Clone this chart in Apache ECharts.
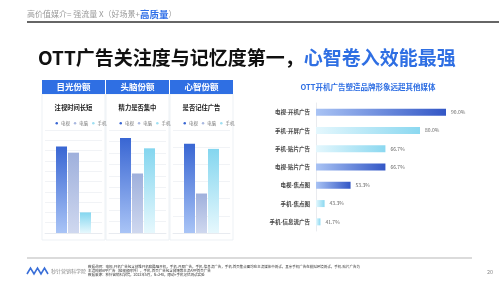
<!DOCTYPE html>
<html>
<head>
<meta charset="utf-8">
<script src="https://cdn.jsdelivr.net/npm/echarts@6/dist/echarts.min.js"></script>
<style>
html,body{margin:0;padding:0;background:#fff;}
#chart{width:499px;height:281px;}
</style>
</head>
<body>
<div id="chart"></div>
<script>
// ---- data ----
const panelTitles = ['目光份额', '头脑份额', '心智份额'];
const panelSubtitles = ['注视时间长短', '精力是否集中', '是否记住广告'];
const deviceNames = ['电视', '电脑', '手机'];
const panelTvValues = [84, 83, 52];
const panelPcValues = [78, 52, 23];
const panelPhoneValues = [20, 74, 49];
const panelAxisMax = [100, 90, 60];

const mediaCategories = ['电视-开机广告', '手机-开屏广告', '手机-贴片广告', '电视-贴片广告', '电视-焦点图', '手机-焦点图', '手机-信息流广告'];
const mediaValues = [90.0, 80.0, 66.7, 66.7, 53.3, 43.3, 41.7];

const FONT = '"Noto Sans CJK SC", "Noto Sans", sans-serif';
const chart = echarts.init(document.getElementById('chart'), null, {renderer: 'canvas'});

function vGrad(top, bottom) {
  return new echarts.graphic.LinearGradient(0, 0, 0, 1, [{offset: 0, color: top}, {offset: 1, color: bottom}]);
}
function hGrad(left, right) {
  return new echarts.graphic.LinearGradient(0, 0, 1, 0, [{offset: 0, color: left}, {offset: 1, color: right}]);
}
const deviceColors = [
  vGrad('#3966d3', '#a9c4f6'),
  vGrad('#9fb0dc', '#cfd8ef'),
  vGrad('#84d6ef', '#e6f8fd')
];
const legendColors = ['#3966d3', '#a9b8e0', '#9fdff2'];

const cardX = [42, 106, 170];
const cardW = 63;
const panelValues = [panelTvValues, panelPcValues, panelPhoneValues];

const grids = [], xAxes = [], yAxes = [], series = [], legends = [], graphics = [];

for (let i = 0; i < 3; i++) {
  grids.push({left: cardX[i] + 3, width: cardW - 6, top: 130, bottom: 48, containLabel: false});
  xAxes.push({type: 'category', gridIndex: i, data: [panelSubtitles[i]],
    axisLine: {show: true, lineStyle: {color: '#e6e9ef', width: 0.8}},
    axisTick: {show: false}, axisLabel: {show: false}});
  yAxes.push({type: 'value', gridIndex: i, min: 0, max: panelAxisMax[i], interval: 10,
    axisLine: {show: false}, axisTick: {show: false}, axisLabel: {show: false},
    splitLine: {show: true, lineStyle: {color: '#eef0f4', width: 0.8}}});
  for (let j = 0; j < 3; j++) {
    series.push({
      type: 'bar', name: deviceNames[j], xAxisIndex: i, yAxisIndex: i,
      data: [panelValues[j][i]],
      barWidth: 11, barGap: '9%',
      itemStyle: {color: deviceColors[j]},
      emphasis: {disabled: true}
    });
  }
  legends.push({
    left: cardX[i] + cardW / 2 - 23, top: 116,
    data: deviceNames.map((n, k) => ({name: n, itemStyle: {color: legendColors[k]}})),
    icon: 'circle', itemWidth: 2.5, itemHeight: 2.5, itemGap: 4,
    textStyle: {fontSize: 4.4, color: '#777', fontFamily: FONT, padding: [0, 0, 0, -2]},
    selectedMode: false
  });
  // card + header
  graphics.push({type: 'rect', z: 0, shape: {x: cardX[i], y: 94, width: cardW, height: 146},
    style: {fill: '#fff', stroke: '#e9edf3', lineWidth: 0.8}});
  graphics.push({type: 'rect', z: 1, shape: {x: cardX[i], y: 80, width: cardW, height: 14},
    style: {fill: '#2f6fe3'}});
  graphics.push({type: 'text', z: 2, x: cardX[i] + cardW / 2, y: 87,
    style: {text: panelTitles[i], fill: '#fff', font: 'bold 8.5px ' + FONT, align: 'center', verticalAlign: 'middle'}});
  graphics.push({type: 'text', z: 2, x: cardX[i] + cardW / 2, y: 108,
    style: {text: panelSubtitles[i], fill: '#222', font: 'bold 6.3px ' + FONT, align: 'center', verticalAlign: 'middle'}});
}

// right horizontal chart
grids.push({left: 316, right: 27, top: 103, bottom: 50, containLabel: false});
xAxes.push({type: 'value', gridIndex: 3, min: 40, max: 100, show: false, splitLine: {show: false}});
yAxes.push({type: 'category', gridIndex: 3, data: mediaCategories, inverse: true,
  axisLine: {show: true, lineStyle: {color: '#e3e6eb', width: 0.8}},
  axisTick: {show: false},
  axisLabel: {fontSize: 5.5, fontWeight: 'bold', color: '#444', fontFamily: FONT, margin: 6}});
series.push({
  type: 'bar', name: 'media', xAxisIndex: 3, yAxisIndex: 3,
  data: mediaValues.map((v, k) => ({
    value: v,
    itemStyle: {color: mediaCategories[k].indexOf('电视') === 0 ? hGrad('#a9c3f4', '#3357c6') : hGrad('#e4f7fd', '#8bd8f0')}
  })),
  barWidth: 7,
  label: {show: true, position: 'right', distance: 5, fontSize: 5, color: '#666', fontFamily: FONT,
    formatter: p => Number(p.value).toFixed(1) + '%'},
  emphasis: {disabled: true}
});

// texts
graphics.push({type: 'text', x: 27, y: 14, style: {
  text: '{a|高价值媒介= 强流量 X（好场景+}{b|高质量}{a|）}', verticalAlign: 'middle',
  rich: {a: {fontSize: 8, fill: '#9a9a9a', fontFamily: FONT}, b: {fontSize: 9.5, fontWeight: 'bold', fill: '#2f6fe8', fontFamily: FONT}}
}});
graphics.push({type: 'line', shape: {x1: 27, y1: 22, x2: 499, y2: 22}, style: {stroke: '#333', lineWidth: 1.4}});
graphics.push({type: 'text', x: 38, y: 58, style: {
  text: '{a|OTT广告关注度与记忆度第一，}{b|心智卷入效能最强}', verticalAlign: 'middle',
  rich: {a: {fontSize: 19, fontWeight: 'bold', fill: '#111', fontFamily: FONT}, b: {fontSize: 19, fontWeight: 'bold', fill: '#2f6fe3', fontFamily: FONT}}
}});
graphics.push({type: 'text', x: 368, y: 87, style: {
  text: 'OTT开机广告塑造品牌形象远超其他媒体', fill: '#2f6fe3', font: 'bold 7.5px ' + FONT, align: 'center', verticalAlign: 'middle'}});

// footer
graphics.push({type: 'line', shape: {x1: 27, y1: 258, x2: 472, y2: 258}, style: {stroke: '#999', lineWidth: 0.7}});
graphics.push({type: 'polyline', shape: {points: [[27, 274], [30.5, 268], [34, 274], [37.5, 268], [41, 274], [44.5, 268], [48, 274]]},
  style: {stroke: '#3a6fd8', lineWidth: 1.6, fill: null}});
graphics.push({type: 'text', x: 51, y: 271, style: {text: '秒针营销科学院', fill: '#888', font: '5px ' + FONT, verticalAlign: 'middle'}});
graphics.push({type: 'text', x: 88, y: 267, style: {text: '数据说明：电视-开机广告包含创维开机和酷喵开机，手机-开屏广告，手机-信息流广告，手机-首页焦点图均在主流媒体中测试，其余手机广告在模拟环境测试，手机-贴片广告为', fill: '#333', font: '3.5px ' + FONT, verticalAlign: 'middle'}});
graphics.push({type: 'text', x: 88, y: 271, style: {text: '主流视频APP广告（短视频除外），手机-首页广告包含微博等主流APP首页广告', fill: '#333', font: '3.5px ' + FONT, verticalAlign: 'middle'}});
graphics.push({type: 'text', x: 88, y: 275, style: {text: '数据来源：秒针营销科学院，2023年5月，N=240，眼动+手机记忆测试实验', fill: '#333', font: '3.5px ' + FONT, verticalAlign: 'middle'}});
graphics.push({type: 'text', x: 490, y: 272, style: {text: '20', fill: '#888', font: '5.5px ' + FONT, align: 'center', verticalAlign: 'middle'}});

chart.setOption({
  backgroundColor: '#fff',
  animation: false,
  textStyle: {fontFamily: FONT},
  grid: grids, xAxis: xAxes, yAxis: yAxes, series: series, legend: legends,
  graphic: graphics
});
</script>
</body>
</html>
